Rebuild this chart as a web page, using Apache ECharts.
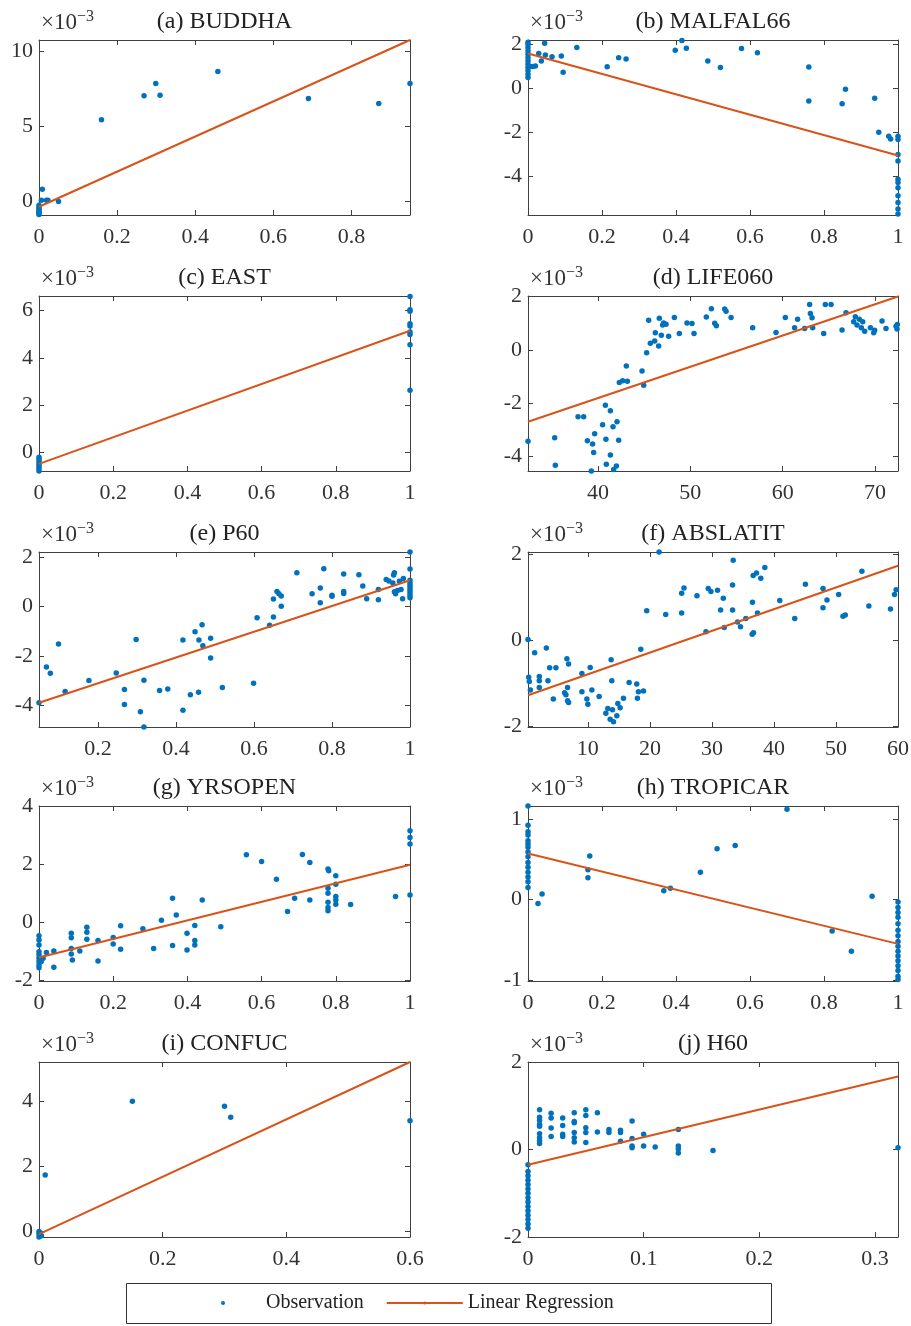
<!DOCTYPE html>
<html>
<head>
<meta charset="utf-8">
<script src="https://cdn.jsdelivr.net/npm/echarts@6/dist/echarts.min.js"></script>
<style>html,body{margin:0;padding:0;background:#fff}#c{width:911px;height:1326px}</style>
</head>
<body>
<div id="c"></div>
<script>
// ---------- data (y values in units of 1e-3) ----------
const titles = ['(a) BUDDHA','(b) MALFAL66','(c) EAST','(d) LIFE060','(e) P60','(f) ABSLATIT','(g) YRSOPEN','(h) TROPICAR','(i) CONFUC','(j) H60'];

const xRanges = [[0,0.95],[0,1],[0,1],[32.42,72.49],[0.049,1],[0.35,60],[0,1],[0,1],[0,0.6],[0,0.32]];
const yRanges = [[-0.95,10.75],[-5.74,2.2],[-0.79,6.62],[-4.55,2.02],[-4.86,2.2],[-2.02,2.06],[-2.01,4.01],[-1.01,1.16],[-0.18,5.21],[-2,2]];

const xTicks = [
  [0,0.2,0.4,0.6,0.8],[0,0.2,0.4,0.6,0.8,1],[0,0.2,0.4,0.6,0.8,1],[40,50,60,70],[0.2,0.4,0.6,0.8,1],
  [10,20,30,40,50,60],[0,0.2,0.4,0.6,0.8,1],[0,0.2,0.4,0.6,0.8,1],[0,0.2,0.4,0.6],[0,0.1,0.2,0.3]
];
const yTicks = [[0,5,10],[-4,-2,0,2],[0,2,4,6],[-4,-2,0,2],[-4,-2,0,2],[-2,0,2],[-2,0,2,4],[-1,0,1],[0,2,4],[-2,0,2]];

const obsA = [[0.0085,0.77],[0.006,0.04],[0.019,0.04],[0.023,0.04],[0.05,-0.04],[0,-0.3],[0,-0.45],[0,-0.55],[0,-0.65],[0,-0.75],[0,-0.85],[0,-0.92],[0.16,5.41],[0.269,7.02],[0.299,7.84],[0.31,7.06],[0.458,8.65],[0.69,6.84],[0.87,6.51],[0.95,7.84]];
const obsB = [[0,2.1],[0,2.0],[0,1.85],[0,1.7],[0,1.55],[0,1.4],[0,1.25],[0,1.1],[0,0.95],[0,0.8],[0,0.65],[0,0.5],
  [0.004,1.0],[0.013,1.0],[0.02,1.02],[0.029,1.59],[0.036,1.25],[0.045,2.05],[0.047,1.52],[0.065,1.44],[0.09,1.47],[0.095,0.74],[0.132,1.86],[0.214,0.99],[0.245,1.4],[0.265,1.34],[0.398,1.73],[0.416,2.18],[0.428,1.83],[0.486,1.25],[0.52,0.95],[0.577,1.82],[0.62,1.62],[0.759,0.98],[0.759,-0.57],[0.849,-0.69],[0.858,-0.03],[0.937,-0.44],[0.948,-1.98],[0.975,-2.17],[0.98,-2.29],
  [1,-2.17],[1,-2.32],[1,-3.0],[1,-3.29],[1,-4.12],[1,-4.27],[1,-4.5],[1,-4.87],[1,-5.17],[1,-5.47],[1,-5.7]];
const obsC = [[0,-0.21],[0,-0.3],[0,-0.4],[0,-0.5],[0,-0.6],[0,-0.7],[0,-0.79],[1,6.6],[1,6.04],[1,5.97],[1,5.45],[1,5.35],[1,5.1],[1,4.99],[1,4.56],[1,2.63]];
const obsD = [[32.42,-3.43],[35.31,-3.3],[35.38,-4.33],[37.84,-2.51],[38.45,-2.51],[38.85,-3.41],[39.28,-4.55],[39.42,-3.54],[39.53,-3.86],[39.64,-3.15],[40.5,-2.81],[40.8,-2.08],[40.86,-3.36],[40.9,-4.3],[41.34,-2.29],[41.34,-3.95],[41.63,-2.89],[41.7,-4.49],[41.99,-4.36],[42.06,-2.7],[42.24,-3.4],[42.31,-1.23],[42.67,-1.16],[43.07,-0.61],[43.18,-1.18],[44.77,-0.8],[44.95,-1.33],[45.27,-0.11],[45.49,1.11],[45.67,0.25],[46.14,0.33],[46.21,0.64],[46.57,0.14],[46.64,1.18],[46.86,0.55],[47.0,0.93],[47.11,1.01],[47.37,0.96],[47.65,0.51],[48.27,1.21],[48.81,0.61],[49.64,1.01],[50.18,0.99],[50.4,0.61],[51.73,1.23],[52.28,1.54],[52.64,1.0],[52.82,0.9],[53.72,1.53],[53.87,1.45],[54.41,1.21],[56.75,0.83],[59.28,0.65],[60.29,1.21],[61.29,0.83],[61.62,1.15],[62.38,0.8],[62.92,1.7],[63.0,1.36],[63.18,1.2],[63.25,0.83],[64.44,0.61],[64.62,1.7],[65.24,1.7],[66.43,0.74],[66.86,1.39],[67.69,1.05],[67.87,1.24],[68.05,0.93],[68.3,1.15],[68.52,0.83],[68.67,1.05],[68.88,0.7],[69.5,0.83],[69.86,0.64],[69.96,0.73],[70.76,1.08],[71.19,0.8],[72.28,0.88],[72.39,0.78],[72.42,0.95]];
const obsE = [[0.049,-3.88],[0.068,-2.44],[0.078,-2.69],[0.099,-1.51],[0.116,-3.43],[0.177,-2.98],[0.247,-2.68],[0.268,-3.35],[0.268,-3.95],[0.298,-1.33],[0.309,-4.24],[0.318,-2.97],[0.318,-4.86],[0.358,-3.39],[0.379,-3.33],[0.418,-1.35],[0.418,-4.18],[0.437,-3.56],[0.449,-1.02],[0.458,-3.46],[0.459,-1.35],[0.467,-0.73],[0.469,-1.58],[0.489,-1.28],[0.489,-2.08],[0.519,-3.27],[0.599,-3.1],[0.608,-0.45],[0.64,-0.76],[0.65,-0.42],[0.65,0.3],[0.659,0.61],[0.664,0.52],[0.67,0.42],[0.67,0.01],[0.71,1.36],[0.749,0.52],[0.77,0.75],[0.77,0.15],[0.779,1.52],[0.8,0.46],[0.8,0.41],[0.83,1.31],[0.83,0.61],[0.83,0.53],[0.869,1.28],[0.879,0.83],[0.889,0.31],[0.919,0.27],[0.919,0.69],[0.939,1.09],[0.946,1.03],[0.956,0.95],[0.958,1.27],[0.96,1.36],[0.96,0.6],[0.963,0.52],[0.968,0.65],[0.973,1.02],[0.977,0.69],[0.981,0.31],[0.983,1.13],[1,2.2],[1,1.51],[1,1.06],[1,0.95],[1,0.85],[1,0.75],[1,0.65],[1,0.55],[1,0.45],[1,0.35]];
const obsF = [[0.35,0.02],[0.46,-0.86],[0.56,-0.96],[0.73,-1.16],[1.42,-0.29],[2.17,-0.84],[2.17,-0.94],[2.17,-1.1],[3.3,-0.18],[3.57,-0.94],[3.84,-0.64],[4.43,-1.37],[4.85,-0.64],[6.25,-1.22],[6.46,-1.27],[6.62,-0.43],[6.73,-1.1],[6.73,-1.41],[6.89,-0.55],[6.89,-1.45],[9.04,-0.77],[9.04,-1.2],[9.84,-1.37],[10.0,-1.49],[10.38,-0.63],[10.65,-1.16],[11.82,-1.31],[12.9,-1.7],[13.22,-1.59],[13.59,-1.84],[13.75,-0.45],[13.86,-0.94],[13.97,-1.62],[14.13,-1.9],[14.67,-1.76],[14.83,-1.47],[15.2,-1.57],[15.74,-1.35],[16.65,-0.98],[17.88,-1.02],[17.99,-1.35],[18.15,-1.2],[18.53,-0.21],[18.96,-1.18],[19.49,0.69],[21.48,2.06],[22.55,0.6],[25.12,0.64],[25.12,1.1],[25.5,1.22],[27.59,1.04],[29.04,0.2],[29.41,1.21],[29.84,1.14],[30.91,1.17],[31.4,0.71],[31.83,0.98],[31.99,0.3],[33.33,1.29],[33.33,0.71],[33.43,1.87],[34.13,0.43],[34.61,0.32],[35.47,0.51],[36.49,0.14],[36.54,0.89],[36.65,1.51],[36.7,0.18],[37.19,1.57],[37.35,0.64],[37.88,1.45],[38.53,1.7],[40.94,0.93],[43.35,0.51],[45.07,1.31],[47.91,0.76],[47.91,1.21],[48.55,0.94],[50.43,1.07],[51.13,0.56],[51.5,0.59],[54.18,1.61],[55.3,0.8],[58.79,0.73],[59.44,1.07],[59.7,1.18]];
const obsG = [[0,-0.45],[0,-0.6],[0,-0.77],[0,-1.0],[0,-1.11],[0,-1.23],[0,-1.34],[0,-1.46],[0,-1.55],[0.006,-1.34],[0.011,-1.23],[0.02,-1.03],[0.04,-0.98],[0.04,-1.54],[0.087,-0.37],[0.087,-0.52],[0.087,-0.89],[0.087,-1.08],[0.09,-1.29],[0.11,-0.98],[0.129,-0.16],[0.129,-0.33],[0.129,-0.57],[0.159,-0.62],[0.159,-1.32],[0.2,-0.51],[0.2,-0.74],[0.22,-0.11],[0.22,-0.92],[0.28,-0.21],[0.309,-0.89],[0.33,0.08],[0.36,0.84],[0.36,-0.79],[0.37,0.26],[0.399,-0.37],[0.399,-0.94],[0.42,-0.1],[0.42,-0.62],[0.42,-0.77],[0.44,0.78],[0.49,-0.14],[0.559,2.33],[0.6,2.1],[0.64,1.49],[0.67,0.38],[0.689,0.84],[0.71,2.34],[0.73,2.07],[0.73,0.78],[0.779,1.84],[0.781,1.78],[0.779,1.18],[0.779,1.01],[0.779,0.7],[0.779,0.52],[0.779,0.41],[0.8,1.61],[0.8,1.32],[0.8,0.9],[0.8,0.78],[0.8,0.63],[0.84,0.62],[0.961,0.9],[1,3.16],[1,2.93],[1,2.7],[1,0.95]];
const obsH = [[0,1.16],[0,0.92],[0,0.84],[0,0.8],[0,0.73],[0,0.69],[0,0.65],[0,0.59],[0,0.53],[0,0.46],[0,0.4],[0,0.34],[0,0.28],[0,0.22],[0,0.15],[0.027,-0.05],[0.038,0.07],[0.162,0.27],[0.162,0.37],[0.167,0.54],[0.367,0.11],[0.385,0.14],[0.466,0.34],[0.511,0.63],[0.56,0.67],[0.7,1.12],[0.822,-0.39],[0.874,-0.64],[0.93,0.04],
  [1,-0.03],[1,-0.1],[1,-0.16],[1,-0.22],[1,-0.3],[1,-0.38],[1,-0.45],[1,-0.52],[1,-0.58],[1,-0.64],[1,-0.7],[1,-0.76],[1,-0.82],[1,-0.88],[1,-0.95],[1,-0.99]];
const obsI = [[0,-0.01],[0,-0.09],[0,-0.18],[0.002,-0.05],[0.004,-0.14],[0.01,1.73],[0.151,4.0],[0.3,3.85],[0.31,3.51],[0.6,3.4]];
const obsJ = [[0,-0.35],[0,-0.5],[0,-0.6],[0,-0.7],[0,-0.8],[0,-0.9],[0,-1.0],[0,-1.1],[0,-1.2],[0,-1.3],[0,-1.4],[0,-1.5],[0,-1.6],[0,-1.7],[0,-1.8],
  [0.01,0.91],[0.01,0.74],[0.01,0.67],[0.01,0.58],[0.01,0.53],[0.01,0.36],[0.01,0.27],[0.01,0.2],[0.01,0.14],
  [0.02,0.83],[0.02,0.72],[0.02,0.49],[0.02,0.3],[0.03,0.72],[0.03,0.55],[0.03,0.35],[0.03,0.3],
  [0.04,0.84],[0.04,0.64],[0.04,0.61],[0.04,0.39],[0.04,0.27],[0.04,0.17],[0.05,0.91],[0.05,0.78],[0.05,0.5],[0.05,0.39],[0.05,0.16],
  [0.06,0.84],[0.06,0.4],[0.07,0.46],[0.07,0.39],[0.08,0.44],[0.08,0.39],[0.08,0.19],[0.09,0.65],[0.09,0.25],[0.09,0.08],[0.09,0.04],
  [0.1,0.35],[0.1,0.08],[0.11,0.06],[0.13,0.46],[0.13,0.08],[0.13,0.01],[0.13,-0.08],[0.16,-0.02],[0.32,0.04]];

const observations = [obsA,obsB,obsC,obsD,obsE,obsF,obsG,obsH,obsI,obsJ];

// regression line endpoints
const regLines = [
  [[0,-0.4],[0.95,10.75]], [[0,1.59],[1,-3.04]], [[0,-0.49],[1,5.15]], [[32.42,-2.7],[72.49,2.0]], [[0.049,-3.88],[1,1.06]],
  [[0.35,-1.28],[60,1.74]], [[0,-1.2],[1,1.99]], [[0,0.57],[1,-0.55]], [[0,-0.09],[0.6,5.21]], [[0,-0.35],[0.32,1.67]]
];

// ---------- layout ----------
const FONT = '"Liberation Serif","Times New Roman",serif';
const colLeft = [39, 528], colWidth = [371, 370];
const rowTop = [40, 296, 552, 806, 1062], plotH = 175;
const AX = '#404040', TXT = '#333333';
const BLUE = '#0072BD', ORANGE = '#D95319';

const grid = [], xAxis = [], yAxis = [], series = [], title = [];
for (let i = 0; i < 10; i++) {
  const c = i % 2, r = Math.floor(i / 2);
  const left = colLeft[c], top = rowTop[r], w = colWidth[c];
  grid.push({left: left, top: top, width: w, height: plotH, outerBoundsMode: 'none', containLabel: false});
  title.push({text: titles[i], left: left + w / 2, top: top - 30, textAlign: 'center', padding: 0,
    textStyle: {fontFamily: FONT, fontSize: 24, fontWeight: 'normal', color: '#222'}});
  const common = {gridIndex: i, type: 'value', splitLine: {show: false},
    axisLine: {show: true, onZero: false, lineStyle: {color: AX, width: 1}}};
  const fmt = v => String(v);
  xAxis.push(Object.assign({}, common, {position: 'bottom', min: xRanges[i][0], max: xRanges[i][1],
    axisTick: {show: true, inside: true, length: 5, customValues: xTicks[i], lineStyle: {color: AX}},
    axisLabel: {show: true, customValues: xTicks[i], formatter: fmt, margin: 11, color: TXT, fontSize: 22, fontFamily: FONT}}));
  xAxis.push(Object.assign({}, common, {position: 'top', min: xRanges[i][0], max: xRanges[i][1],
    axisTick: {show: true, inside: true, length: 5, customValues: xTicks[i], lineStyle: {color: AX}},
    axisLabel: {show: false}}));
  yAxis.push(Object.assign({}, common, {position: 'left', min: yRanges[i][0], max: yRanges[i][1],
    axisTick: {show: true, inside: true, length: 5, customValues: yTicks[i], lineStyle: {color: AX}},
    axisLabel: {show: true, customValues: yTicks[i], formatter: fmt, margin: 6, color: TXT, fontSize: 22, fontFamily: FONT},
    name: '{a|×10}{s|−3}', nameLocation: 'end', nameGap: 6,
    nameTextStyle: {align: 'left', verticalAlign: 'bottom', padding: [0, 0, 0, 2],
      rich: {a: {fontFamily: FONT, fontSize: 23, color: TXT, lineHeight: 25, verticalAlign: 'bottom'},
             s: {fontFamily: FONT, fontSize: 16, color: TXT, lineHeight: 16, verticalAlign: 'top'}}}}));
  yAxis.push(Object.assign({}, common, {position: 'right', min: yRanges[i][0], max: yRanges[i][1],
    axisTick: {show: true, inside: true, length: 5, customValues: yTicks[i], lineStyle: {color: AX}},
    axisLabel: {show: false}}));
  series.push({name: 'Observation', type: 'scatter', xAxisIndex: 2 * i, yAxisIndex: 2 * i,
    data: observations[i], symbol: 'circle', symbolSize: 5.5, clip: false,
    itemStyle: {color: BLUE, opacity: 1}, emphasis: {disabled: true}, z: 2});
  series.push({name: 'Linear Regression', type: 'line', xAxisIndex: 2 * i, yAxisIndex: 2 * i,
    data: regLines[i], symbol: 'none', showSymbol: false, clip: false,
    lineStyle: {color: ORANGE, width: 2}, itemStyle: {color: ORANGE}, emphasis: {disabled: true}, z: 3});
}

const chart = echarts.init(document.getElementById('c'), null, {renderer: 'canvas'});
chart.setOption({
  animation: false,
  backgroundColor: '#fff',
  title: title,
  grid: grid, xAxis: xAxis, yAxis: yAxis, series: series,
  legend: {
    data: [{name: 'Observation', icon: 'circle'}, {name: 'Linear Regression'}],
    left: 221, top: 1293, padding: 0, itemWidth: 76, itemHeight: 4, itemGap: 22,
    selectedMode: false,
    textStyle: {fontFamily: FONT, fontSize: 20, color: '#222', lineHeight: 20}
  },
  graphic: [{type: 'rect', shape: {x: 126.5, y: 1283.5, width: 645, height: 40},
    style: {fill: 'none', stroke: '#333', lineWidth: 1}, silent: true, z: -1}]
});
</script>
</body>
</html>
